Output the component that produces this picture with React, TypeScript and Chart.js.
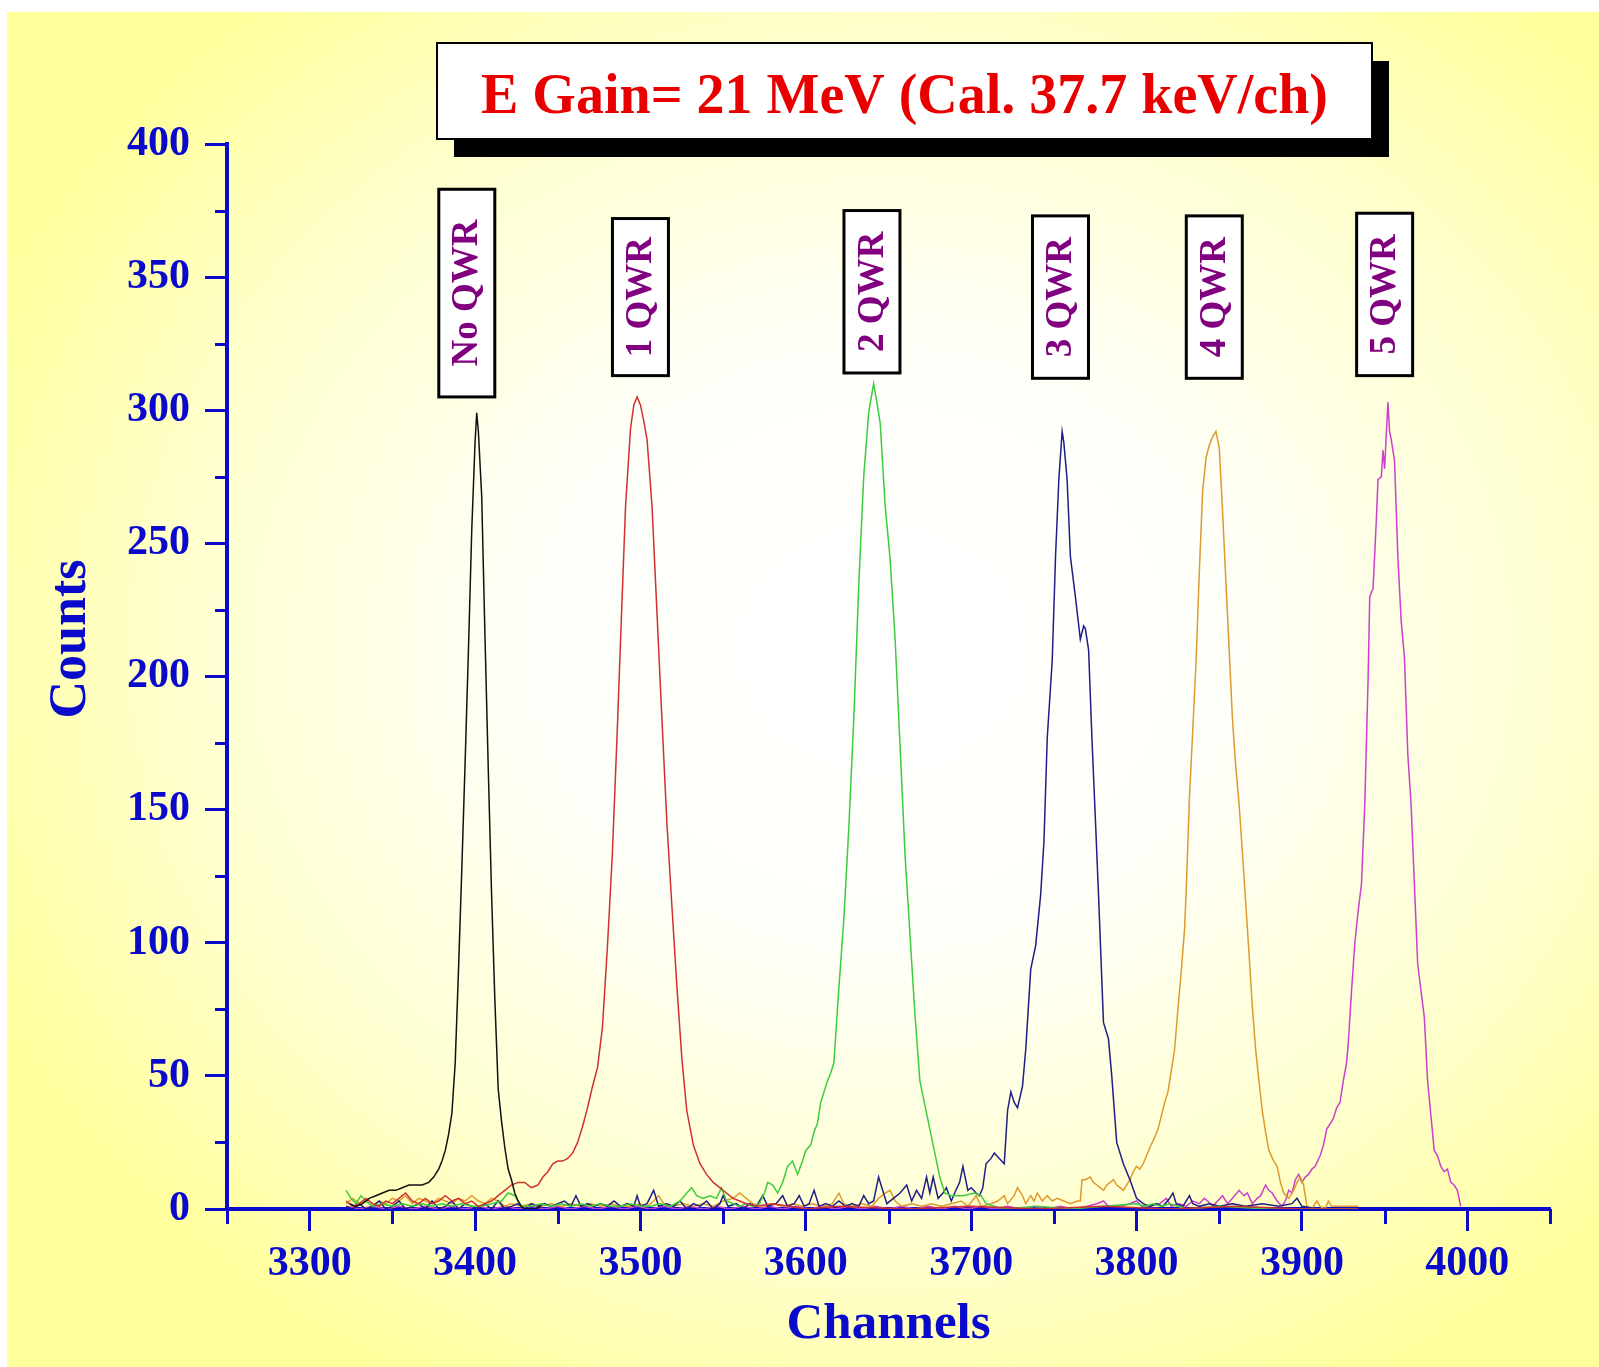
import React, { useEffect, useRef } from 'react';
import { Chart, registerables } from 'chart.js';

Chart.register(...registerables);

// ---------- axes ----------
const X_MIN = 3250;
const X_MAX = 4050;
const X_STEP = 50;
const X_LABEL_EVERY = 100;
const Y_MIN = 0;
const Y_MAX = 400;
const Y_STEP = 25;
const Y_LABEL_EVERY = 50;

// ---------- texts ----------
const titleText = 'E Gain= 21 MeV (Cal. 37.7 keV/ch)';
const xAxisTitle = 'Channels';
const yAxisTitle = 'Counts';

// ---------- series ----------
const seriesNames = ['No QWR', '1 QWR', '2 QWR', '3 QWR', '4 QWR', '5 QWR'];
const seriesColors = ['#111111', '#D03030', '#3CCD3C', '#1E1E86', '#DE9A2E', '#CC40CC'];

// [channel, counts]
const noQwrSpectrum: [number, number][] = [
  [3324, 2], [3328, 1], [3332, 2], [3336, 4], [3340, 5], [3344, 6], [3348, 7], [3352, 7], [3356, 8], [3360, 9],
  [3364, 9], [3368, 9], [3372, 10], [3375, 12], [3378, 15], [3380, 18], [3382, 22], [3384, 28], [3386, 36], [3388, 55],
  [3390, 90], [3392, 128], [3394, 168], [3396, 210], [3398, 255], [3400, 288], [3401, 299], [3402, 292], [3404, 268], [3406, 215],
  [3408, 165], [3410, 118], [3412, 78], [3414, 45], [3416, 33], [3418, 23], [3420, 15], [3422, 11], [3424, 6], [3426, 3],
  [3428, 1], [3430, 0], [3436, 0], [3440, 1],
];

const oneQwrSpectrum: [number, number][] = [
  [3322, 3], [3326, 1], [3330, 2], [3334, 4], [3338, 2], [3342, 1], [3346, 3], [3350, 2], [3354, 4], [3358, 6],
  [3362, 3], [3366, 2], [3370, 4], [3374, 2], [3378, 3], [3382, 5], [3386, 3], [3390, 4], [3394, 2], [3398, 3],
  [3402, 1], [3406, 2], [3410, 3], [3414, 5], [3418, 7], [3422, 9], [3426, 10], [3430, 10], [3434, 8], [3438, 9],
  [3441, 12], [3444, 14], [3447, 17], [3450, 18], [3453, 18], [3456, 19], [3459, 21], [3462, 25], [3465, 31], [3468, 38],
  [3471, 46], [3474, 53], [3477, 68], [3480, 98], [3483, 133], [3486, 180], [3488, 214], [3491, 264], [3494, 293], [3496, 302],
  [3498, 305], [3500, 302], [3502, 296], [3504, 289], [3507, 264], [3510, 224], [3513, 184], [3516, 145], [3519, 114], [3522, 84],
  [3525, 57], [3528, 37], [3532, 24], [3536, 17], [3540, 13], [3544, 10], [3548, 8], [3552, 6], [3556, 4], [3560, 3],
  [3564, 2], [3570, 1], [3580, 2], [3590, 1], [3600, 0], [3620, 1], [3660, 0], [3700, 1], [3740, 0], [3780, 1],
  [3820, 0], [3860, 1], [3900, 0], [3934, 0],
];

const twoQwrSpectrum: [number, number][] = [
  [3322, 7], [3325, 4], [3328, 2], [3331, 5], [3334, 3], [3338, 1], [3344, 2], [3350, 1], [3356, 2], [3362, 1],
  [3368, 2], [3374, 1], [3380, 2], [3386, 1], [3392, 2], [3398, 1], [3404, 1], [3410, 2], [3416, 3], [3420, 6],
  [3424, 5], [3428, 1], [3434, 1], [3440, 2], [3446, 1], [3452, 2], [3458, 1], [3464, 2], [3470, 1], [3476, 2],
  [3482, 1], [3488, 1], [3494, 2], [3500, 1], [3506, 1], [3512, 2], [3518, 1], [3524, 3], [3528, 6], [3531, 8],
  [3534, 5], [3538, 4], [3542, 5], [3546, 4], [3549, 8], [3552, 3], [3556, 2], [3560, 1], [3564, 2], [3568, 1],
  [3572, 2], [3575, 6], [3577, 10], [3580, 9], [3583, 6], [3586, 10], [3589, 16], [3592, 18], [3595, 13], [3598, 18],
  [3600, 22], [3603, 24], [3605, 29], [3607, 32], [3609, 40], [3611, 44], [3613, 48], [3615, 51], [3617, 55], [3620, 83],
  [3623, 109], [3626, 143], [3629, 184], [3632, 234], [3635, 275], [3638, 299], [3641, 310], [3643, 303], [3645, 295], [3648, 264],
  [3651, 244], [3654, 214], [3657, 174], [3660, 133], [3663, 103], [3666, 73], [3669, 48], [3673, 36], [3677, 24], [3681, 12],
  [3684, 6], [3688, 5], [3695, 5], [3702, 6], [3706, 5], [3709, 2], [3714, 1], [3720, 0], [3740, 1], [3760, 0],
  [3780, 1], [3800, 2], [3805, 1], [3810, 2], [3815, 1], [3820, 2], [3825, 1], [3830, 0], [3850, 1], [3880, 0],
  [3934, 0],
];

const threeQwrSpectrum: [number, number][] = [
  [3322, 1], [3326, 0], [3330, 2], [3334, 0], [3338, 1], [3342, 3], [3346, 0], [3350, 1], [3354, 3], [3358, 0],
  [3362, 1], [3366, 2], [3370, 0], [3374, 3], [3378, 0], [3382, 1], [3386, 3], [3390, 0], [3394, 2], [3398, 1],
  [3402, 0], [3406, 2], [3410, 0], [3414, 3], [3418, 0], [3422, 1], [3426, 2], [3430, 0], [3434, 2], [3438, 1],
  [3442, 2], [3446, 1], [3450, 2], [3454, 3], [3458, 1], [3461, 5], [3464, 1], [3468, 2], [3472, 1], [3476, 2],
  [3480, 1], [3484, 3], [3488, 1], [3492, 2], [3496, 1], [3498, 5], [3500, 1], [3504, 2], [3508, 7], [3511, 1],
  [3516, 2], [3520, 1], [3524, 3], [3528, 0], [3532, 2], [3536, 1], [3540, 3], [3544, 0], [3548, 2], [3550, 5],
  [3553, 1], [3558, 2], [3562, 0], [3566, 2], [3570, 1], [3574, 5], [3577, 1], [3582, 2], [3586, 5], [3589, 1],
  [3593, 2], [3596, 5], [3599, 1], [3602, 2], [3605, 7], [3608, 1], [3612, 2], [3616, 1], [3620, 3], [3624, 1],
  [3628, 2], [3632, 1], [3635, 5], [3638, 2], [3641, 3], [3644, 12], [3646, 8], [3649, 2], [3653, 4], [3657, 6],
  [3661, 9], [3664, 3], [3667, 7], [3670, 4], [3673, 12], [3675, 6], [3677, 12], [3680, 4], [3683, 6], [3685, 8],
  [3688, 3], [3690, 6], [3693, 10], [3695, 16], [3698, 7], [3700, 8], [3703, 6], [3705, 5], [3707, 8], [3709, 17],
  [3712, 19], [3714, 21], [3717, 19], [3720, 17], [3722, 37], [3724, 44], [3726, 40], [3728, 38], [3731, 46], [3733, 60],
  [3736, 90], [3739, 99], [3742, 118], [3744, 138], [3746, 177], [3749, 206], [3751, 245], [3753, 274], [3755, 292], [3756, 288],
  [3758, 274], [3760, 245], [3763, 230], [3766, 214], [3768, 219], [3769, 218], [3771, 210], [3773, 177], [3775, 148], [3777, 118],
  [3780, 70], [3783, 64], [3785, 50], [3788, 25], [3792, 17], [3796, 11], [3800, 4], [3804, 2], [3808, 1], [3812, 2],
  [3816, 1], [3820, 4], [3822, 6], [3824, 2], [3828, 1], [3832, 5], [3834, 2], [3838, 1], [3844, 2], [3850, 1],
  [3858, 2], [3866, 1], [3876, 2], [3886, 1], [3894, 2], [3897, 4], [3900, 1], [3910, 0], [3934, 0],
];

const fourQwrSpectrum: [number, number][] = [
  [3322, 2], [3326, 4], [3330, 2], [3334, 3], [3338, 1], [3342, 3], [3346, 2], [3350, 4], [3354, 3], [3358, 5],
  [3362, 2], [3366, 4], [3370, 3], [3374, 2], [3378, 4], [3382, 3], [3386, 2], [3390, 4], [3394, 3], [3398, 5],
  [3402, 3], [3406, 2], [3410, 4], [3414, 3], [3418, 1], [3422, 2], [3428, 1], [3434, 2], [3440, 1], [3446, 2],
  [3452, 1], [3458, 2], [3464, 1], [3470, 2], [3476, 1], [3482, 2], [3488, 1], [3494, 1], [3500, 2], [3504, 1],
  [3508, 3], [3511, 5], [3514, 2], [3520, 1], [3526, 2], [3532, 1], [3538, 2], [3544, 1], [3550, 3], [3556, 4],
  [3560, 6], [3564, 4], [3568, 2], [3574, 1], [3580, 2], [3586, 1], [3592, 2], [3598, 1], [3604, 2], [3610, 1],
  [3616, 2], [3620, 6], [3623, 2], [3628, 1], [3634, 2], [3640, 1], [3644, 4], [3648, 6], [3651, 7], [3654, 3],
  [3658, 1], [3664, 2], [3670, 1], [3676, 2], [3682, 1], [3688, 2], [3694, 3], [3698, 1], [3703, 5], [3706, 1],
  [3712, 2], [3716, 3], [3720, 5], [3722, 2], [3726, 5], [3728, 8], [3731, 5], [3733, 2], [3736, 5], [3738, 3],
  [3740, 6], [3743, 3], [3746, 5], [3749, 3], [3752, 4], [3756, 3], [3760, 2], [3764, 3], [3766, 3], [3767, 11],
  [3769, 11], [3772, 12], [3774, 10], [3776, 9], [3778, 8], [3780, 7], [3782, 9], [3784, 10], [3786, 11], [3788, 9],
  [3790, 8], [3792, 7], [3794, 9], [3796, 11], [3798, 14], [3800, 16], [3802, 15], [3804, 17], [3806, 20], [3808, 23],
  [3811, 27], [3813, 30], [3815, 35], [3817, 40], [3819, 44], [3821, 52], [3823, 60], [3825, 75], [3827, 89], [3829, 105],
  [3830, 119], [3832, 155], [3834, 180], [3836, 206], [3838, 240], [3840, 270], [3842, 282], [3844, 287], [3846, 290], [3848, 292],
  [3850, 286], [3852, 262], [3854, 236], [3856, 210], [3858, 184], [3860, 166], [3862, 152], [3864, 134], [3866, 115], [3868, 96],
  [3870, 76], [3872, 60], [3874, 48], [3876, 37], [3878, 29], [3880, 22], [3883, 18], [3885, 16], [3887, 10], [3889, 6],
  [3892, 4], [3895, 7], [3897, 10], [3899, 12], [3901, 9], [3903, 1], [3906, 0], [3909, 3], [3911, 1], [3914, 0],
  [3916, 3], [3918, 1], [3925, 1], [3934, 1],
];

const fiveQwrSpectrum: [number, number][] = [
  [3322, 1], [3330, 0], [3338, 1], [3346, 0], [3354, 1], [3362, 0], [3370, 1], [3378, 0], [3386, 1], [3394, 0],
  [3402, 1], [3410, 0], [3418, 1], [3426, 0], [3434, 1], [3442, 0], [3450, 1], [3458, 0], [3466, 1], [3474, 0],
  [3482, 1], [3490, 0], [3498, 1], [3506, 0], [3514, 1], [3522, 0], [3530, 1], [3538, 0], [3546, 1], [3554, 0],
  [3562, 1], [3570, 0], [3578, 1], [3586, 0], [3594, 1], [3602, 0], [3610, 1], [3618, 0], [3626, 1], [3634, 0],
  [3642, 1], [3650, 0], [3658, 1], [3666, 0], [3674, 1], [3682, 0], [3690, 1], [3698, 0], [3706, 1], [3714, 0],
  [3722, 1], [3730, 0], [3738, 1], [3746, 0], [3754, 1], [3762, 0], [3770, 1], [3776, 2], [3780, 3], [3783, 1],
  [3790, 1], [3796, 2], [3800, 3], [3803, 1], [3808, 1], [3814, 2], [3818, 4], [3821, 1], [3826, 2], [3830, 1],
  [3834, 3], [3838, 2], [3841, 4], [3843, 3], [3846, 1], [3849, 3], [3852, 5], [3855, 2], [3858, 4], [3862, 7],
  [3865, 5], [3867, 6], [3870, 2], [3873, 4], [3875, 5], [3878, 9], [3880, 7], [3882, 6], [3885, 3], [3888, 1],
  [3890, 3], [3892, 7], [3894, 6], [3896, 11], [3898, 13], [3900, 10], [3902, 12], [3904, 13], [3906, 15], [3908, 16],
  [3911, 20], [3913, 24], [3915, 30], [3917, 32], [3919, 34], [3921, 38], [3923, 40], [3925, 48], [3927, 55], [3928, 62],
  [3930, 82], [3932, 100], [3934, 112], [3936, 122], [3938, 152], [3940, 199], [3941, 230], [3943, 233], [3945, 259], [3946, 274],
  [3948, 275], [3949, 285], [3950, 278], [3951, 291], [3952, 303], [3953, 292], [3954, 289], [3956, 281], [3958, 245], [3960, 221],
  [3962, 207], [3964, 171], [3966, 152], [3968, 122], [3970, 92], [3972, 82], [3974, 72], [3976, 48], [3978, 35], [3980, 22],
  [3982, 20], [3984, 16], [3986, 14], [3988, 15], [3990, 10], [3992, 9], [3994, 7], [3996, 1],
];

const spectra = [noQwrSpectrum, oneQwrSpectrum, twoQwrSpectrum, threeQwrSpectrum, fourQwrSpectrum, fiveQwrSpectrum];

// ---------- peak labels (boxed, vertical) ----------
const labelTexts = ['No QWR', '1 QWR', '2 QWR', '3 QWR', '4 QWR', '5 QWR'];
const labelChannels = [3395, 3500, 3640, 3754, 3847, 3950];
const labelTopCounts = [383, 372, 375, 373, 373, 374];
const labelBottomCounts = [305, 313, 314, 312, 312, 313];

// ---------- styles ----------
const AXIS_BLUE = '#0A0ACD';
const LABEL_PURPLE = '#800080';
const TITLE_RED = '#E80000';
const SERIF = "'Liberation Serif', 'Times New Roman', serif";

const decorPlugin = {
  id: 'decor',
  afterDraw(chart: any) {
    const { ctx } = chart;
    const xs = chart.scales.x;
    const ys = chart.scales.y;
    ctx.save();

    // minor ticks
    ctx.strokeStyle = AXIS_BLUE;
    ctx.lineWidth = 3;
    const y0 = ys.getPixelForValue(Y_MIN);
    for (let v = X_MIN; v <= X_MAX; v += X_STEP) {
      if (v % X_LABEL_EVERY === 0) continue;
      const px = Math.round(xs.getPixelForValue(v)) + 0.5;
      ctx.beginPath();
      ctx.moveTo(px, y0);
      ctx.lineTo(px, y0 + 15);
      ctx.stroke();
    }
    const x0 = xs.getPixelForValue(X_MIN);
    for (let v = Y_MIN; v <= Y_MAX; v += Y_STEP) {
      if (v % Y_LABEL_EVERY === 0) continue;
      const py = Math.round(ys.getPixelForValue(v)) + 0.5;
      ctx.beginPath();
      ctx.moveTo(x0 - 12, py);
      ctx.lineTo(x0, py);
      ctx.stroke();
    }

    // y axis title
    ctx.save();
    ctx.translate(72, 639);
    ctx.rotate(-Math.PI / 2);
    ctx.fillStyle = AXIS_BLUE;
    ctx.font = `bold 52px ${SERIF}`;
    ctx.textAlign = 'center';
    ctx.textBaseline = 'middle';
    ctx.fillText(yAxisTitle, 0, 0);
    ctx.restore();

    // title box with shadow
    const bx = 437, by = 43, bw = 935, bh = 96;
    ctx.fillStyle = '#000';
    ctx.fillRect(bx + 17, by + 18, bw, bh);
    ctx.fillStyle = '#fff';
    ctx.fillRect(bx, by, bw, bh);
    ctx.strokeStyle = '#000';
    ctx.lineWidth = 2;
    ctx.strokeRect(bx, by, bw, bh);
    ctx.fillStyle = TITLE_RED;
    ctx.font = `bold 56px ${SERIF}`;
    ctx.textAlign = 'center';
    ctx.textBaseline = 'alphabetic';
    ctx.fillText(titleText, bx + bw / 2, 113);

    // peak labels
    const boxW = 56;
    for (let i = 0; i < labelTexts.length; i++) {
      const cx = xs.getPixelForValue(labelChannels[i]);
      const top = ys.getPixelForValue(labelTopCounts[i]);
      const bottom = ys.getPixelForValue(labelBottomCounts[i]);
      ctx.fillStyle = '#fff';
      ctx.fillRect(cx - boxW / 2, top, boxW, bottom - top);
      ctx.strokeStyle = '#000';
      ctx.lineWidth = 3;
      ctx.strokeRect(cx - boxW / 2, top, boxW, bottom - top);
      ctx.save();
      ctx.translate(cx + 1, (top + bottom) / 2);
      ctx.rotate(-Math.PI / 2);
      ctx.fillStyle = LABEL_PURPLE;
      ctx.font = `bold 37px ${SERIF}`;
      ctx.textAlign = 'center';
      ctx.textBaseline = 'middle';
      ctx.fillText(labelTexts[i], 0, 0);
      ctx.restore();
    }
    ctx.restore();
  },
};

export default function App() {
  const canvasRef = useRef<HTMLCanvasElement>(null);

  useEffect(() => {
    const canvas = canvasRef.current;
    if (!canvas) return;
    const chart = new Chart(canvas, {
      type: 'line',
      data: {
        datasets: spectra.map((s, i) => ({
          label: seriesNames[i],
          data: s.map(([x, y]) => ({ x, y })),
          borderColor: seriesColors[i],
          backgroundColor: seriesColors[i],
          borderWidth: 1.5,
          pointRadius: 0,
          fill: false,
          tension: 0,
        })),
      },
      options: {
        animation: false,
        responsive: false,
        maintainAspectRatio: false,
        devicePixelRatio: 1,
        layout: { padding: { left: 0, right: 49, top: 144, bottom: 12 } },
        plugins: {
          legend: { display: false },
          tooltip: { enabled: false },
          title: { display: false },
        },
        scales: {
          x: {
            type: 'linear',
            position: 'bottom',
            min: X_MIN,
            max: X_MAX,
            afterFit: (s: any) => { s.height = 146; },
            ticks: {
              stepSize: X_STEP,
              autoSkip: false,
              maxRotation: 0,
              padding: 8,
              color: AXIS_BLUE,
              font: { family: SERIF, size: 42, weight: 'bold', lineHeight: 1.2 },
              callback: (v: any) => (Number(v) % X_LABEL_EVERY === 0 ? String(v) : ''),
            },
            grid: {
              drawOnChartArea: false,
              drawTicks: true,
              tickLength: 22,
              tickWidth: 3,
              tickColor: (c: any) => (c.tick && c.tick.value % X_LABEL_EVERY === 0 ? AXIS_BLUE : 'rgba(0,0,0,0)'),
            },
            border: { display: true, color: AXIS_BLUE, width: 4 },
            title: {
              display: true,
              text: xAxisTitle,
              color: AXIS_BLUE,
              font: { family: SERIF, size: 51, weight: 'bold', lineHeight: 1.2 },
              padding: { top: 0, bottom: 0 },
            },
          },
          y: {
            type: 'linear',
            min: Y_MIN,
            max: Y_MAX,
            afterFit: (s: any) => { s.width = 227; },
            ticks: {
              stepSize: Y_STEP,
              autoSkip: false,
              padding: 15,
              color: AXIS_BLUE,
              font: { family: SERIF, size: 42, weight: 'bold', lineHeight: 1.2 },
              callback: (v: any) => (Number(v) % Y_LABEL_EVERY === 0 ? String(v) : ''),
            },
            grid: {
              drawOnChartArea: false,
              drawTicks: true,
              tickLength: 22,
              tickWidth: 3,
              tickColor: (c: any) => (c.tick && c.tick.value % Y_LABEL_EVERY === 0 ? AXIS_BLUE : 'rgba(0,0,0,0)'),
            },
            border: { display: true, color: AXIS_BLUE, width: 4 },
          },
        },
      },
      plugins: [decorPlugin],
    } as any);
    return () => chart.destroy();
  }, []);

  return (
    <div style={{ position: 'fixed', left: 0, top: 0, width: 1599, height: 1367, background: '#ffffff', overflow: 'hidden' }}>
      <div
        style={{
          position: 'absolute',
          left: 7,
          top: 12,
          width: 1592,
          height: 1355,
          background:
            'radial-gradient(ellipse 62% 62% at 55% 47%, #ffffff 0%, #fffffa 35%, #ffffd0 70%, #ffff9c 100%)',
        }}
      />
      <canvas
        ref={canvasRef}
        width={1599}
        height={1367}
        style={{ position: 'absolute', left: 0, top: 0, width: 1599, height: 1367 }}
      />
    </div>
  );
}
